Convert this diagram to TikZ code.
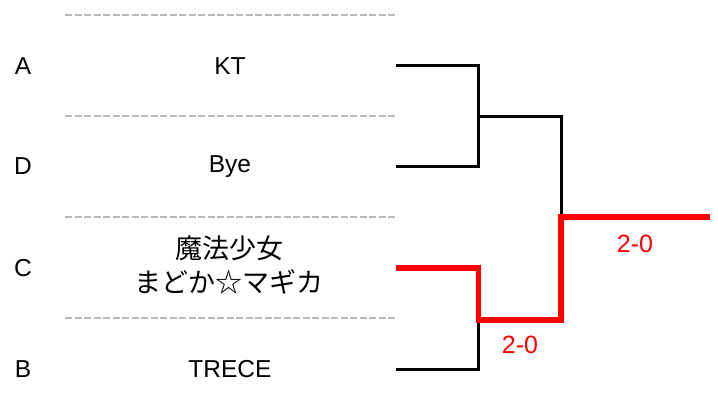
\documentclass[tikz,border=0pt]{standalone}
\usepackage{fontspec}
\setmainfont{Liberation Sans}
\newfontfamily\jpfont{Noto Sans CJK JP}
\tikzset{
% Styles for the bracket: seeds, teams, row rules and result lines
seed node/.style={inner sep=0, font=\fontsize{24.5}{30}\selectfont},
team node/.style={inner sep=0, align=center, font=\fontsize{24.5}{30}\selectfont},
jp node/.style={team node, font=\jpfont\fontsize{27}{34}\selectfont},
score node/.style={inner sep=0, text=red, font=\fontsize{25}{30}\selectfont},
row line/.style={draw=black!27, line width=2.2, dash pattern=on 7 off 2.5},
loser line/.style={draw=black, line width=3},
winner line/.style={draw=red, line width=5.5}
}
\begin{document}
\begin{tikzpicture}[x=1pt, y=-1pt]
\useasboundingbox (0,0) rectangle (718,417);
% row rules
\foreach \y in {15,116,217,318}
    \draw[row line] (65,\y) -- (395,\y);
% seeds
\node[seed node] (seedA) at (23,66) {A};
\node[seed node] (seedD) at (23,166.5) {D};
\node[seed node] (seedC) at (23,268) {C};
\node[seed node] (seedB) at (23,369) {B};
% teams
\node[team node] (teamA) at (230,66) {KT};
\node[team node] (teamD) at (230,166.5) {Bye};
\node[jp node] (teamC) at (229,265) {魔法少女\\まどか☆マギカ};
\node[team node] (teamB) at (230,369) {TRECE};
% bracket
\coordinate (endA) at (396,66);
\coordinate (endD) at (396,166.5);
\coordinate (endC) at (396,268);
\coordinate (endB) at (396,369);
\coordinate (semi1) at (478.5,116.5);
\coordinate (semi2) at (478.5,320);
\coordinate (final) at (561,217);
\coordinate (champ) at (710,217);
\draw[loser line] (endA) -| (semi1) |- (endD);
\draw[loser line] (semi1) -| (final);
\draw[loser line] (endB) -| (semi2);
\draw[winner line] (endC) -| (semi2) -| (final) -- (champ);
% scores
\node[score node] (score1) at (520,345) {2-0};
\node[score node] (score2) at (635,244) {2-0};
\end{tikzpicture}
\end{document}
